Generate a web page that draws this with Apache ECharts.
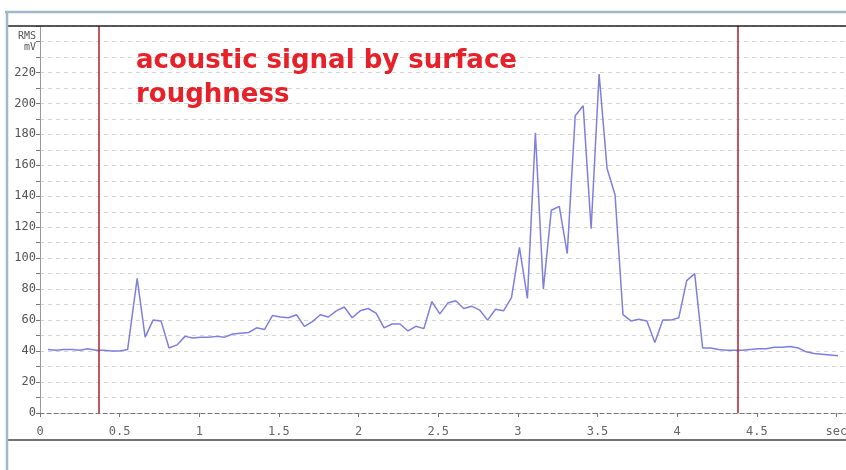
<!DOCTYPE html>
<html>
<head>
<meta charset="utf-8">
<script src="https://cdn.jsdelivr.net/npm/echarts@6/dist/echarts.min.js"></script>
<style>
  html, body { margin: 0; padding: 0; background: #fff; }
  #chart { width: 846px; height: 470px; }
</style>
</head>
<body>
<div id="chart"></div>
<script>
// RMS-Werte (mV) über der Zeit (sec)
const times = [
  0.05, 0.10, 0.15, 0.20, 0.25, 0.30, 0.35, 0.40, 0.45, 0.50,
  0.55, 0.61, 0.66, 0.71, 0.76, 0.81, 0.86, 0.91, 0.96, 1.01,
  1.06, 1.11, 1.16, 1.21, 1.26, 1.31, 1.36, 1.41, 1.46, 1.51,
  1.56, 1.61, 1.66, 1.71, 1.76, 1.81, 1.86, 1.91, 1.96, 2.01,
  2.06, 2.11, 2.16, 2.21, 2.26, 2.31, 2.36, 2.41, 2.46, 2.51,
  2.56, 2.61, 2.66, 2.71, 2.76, 2.81, 2.86, 2.91, 2.96, 3.01,
  3.06, 3.11, 3.16, 3.21, 3.26, 3.31, 3.36, 3.41, 3.46, 3.51,
  3.56, 3.61, 3.66, 3.71, 3.76, 3.81, 3.86, 3.91, 3.96, 4.01,
  4.06, 4.11, 4.16, 4.21, 4.26, 4.31, 4.36, 4.41, 4.46, 4.51,
  4.56, 4.61, 4.66, 4.71, 4.76, 4.81, 4.86, 4.91, 4.96, 5.01
];
const rms = [
  41, 40.5, 41, 41, 40.5, 41.5, 40.5, 40.5, 40, 40,
  41, 87, 49, 60, 59.5, 42, 44, 49.5, 48.5, 49,
  49, 49.5, 49, 51, 51.5, 52, 55, 54, 63, 62,
  61.5, 63.5, 56, 59, 63.5, 62, 66, 68.5, 61.5, 66,
  67.5, 64.5, 55, 57.5, 57.5, 53, 56, 54.5, 72, 64,
  71, 72.5, 67.5, 69, 66.5, 60, 67, 66, 74.5, 107,
  74, 181, 80, 131, 133.5, 103, 192, 198.5, 119, 219,
  158, 141, 63.5, 59.5, 60.5, 59.5, 45.5, 60, 60, 61.5,
  85.5, 90, 42, 42, 41, 40.5, 40.5, 40.5, 41, 41.5,
  41.5, 42.5, 42.5, 43, 42, 39.5, 38.5, 38, 37.5, 37
];
// rote Markierungen (Start / Ende der Messung)
const markers = [0.37, 4.38];

const titleText = 'acoustic signal by surface\nroughness';

const chart = echarts.init(document.getElementById('chart'));

const monoFont = 'DejaVu Sans Mono';

const option = {
  animation: false,
  backgroundColor: '#fff',
  title: {
    text: titleText,
    left: 131,
    top: 39,
    textStyle: {
      color: '#e62129',
      fontFamily: 'DejaVu Sans',
      fontWeight: 'bold',
      fontSize: 26,
      lineHeight: 34
    }
  },
  // Plotbereich endet am rechten Bildrand, Labels dürfen überstehen
  grid: { left: 40, top: 26, right: 0, height: 387, outerBoundsMode: 'none' },
  xAxis: {
    type: 'value',
    min: 0,
    max: 5.06,
    interval: 0.5,
    axisLine: { lineStyle: { color: '#777', type: [4, 3], width: 1 } },
    axisTick: { length: 4, lineStyle: { color: '#777' } },
    axisLabel: {
      margin: 13,
      color: '#666',
      fontFamily: monoFont,
      fontSize: 12,
      showMaxLabel: false,
      formatter: (v) => (v === 5 ? 'sec' : String(v))
    },
    splitLine: { show: false }
  },
  yAxis: {
    type: 'value',
    min: 0,
    max: 250,
    interval: 10,
    axisLine: { show: true, lineStyle: { color: '#999', width: 1 } },
    axisTick: { length: 4, lineStyle: { color: '#777' } },
    axisLabel: {
      margin: 4,
      color: '#555',
      fontFamily: monoFont,
      fontSize: 12,
      formatter: (v) => {
        if (v === 240) return '{u|RMS}\n{u|mV}';
        return v % 20 === 0 && v <= 220 ? String(v) : '';
      },
      rich: {
        u: { fontFamily: monoFont, fontSize: 10, color: '#555', lineHeight: 11, align: 'right' }
      }
    },
    splitLine: { lineStyle: { color: '#d4d4d4', type: [4, 4], width: 1 } }
  },
  series: [
    {
      type: 'line',
      data: times.map((t, i) => [t, rms[i]]),
      symbol: 'none',
      lineStyle: { color: '#7f7fe0', width: 1.5 },
      markLine: {
        silent: true,
        symbol: 'none',
        label: { show: false },
        lineStyle: { color: '#b0202e', width: 1.5, type: 'solid' },
        data: markers.map((m) => ({ xAxis: m }))
      }
    }
  ],
  graphic: [
    // Rahmen des Messfensters
    {
      type: 'line',
      shape: { x1: 8, y1: 26, x2: 846, y2: 26 },
      style: { stroke: '#222', lineWidth: 1.5 },
      z: 10
    },
    {
      type: 'line',
      shape: { x1: 8, y1: 440, x2: 846, y2: 440 },
      style: { stroke: '#444', lineWidth: 1.5 },
      z: 10
    },
    {
      type: 'line',
      shape: { x1: 5, y1: 12, x2: 846, y2: 12 },
      style: { stroke: '#9fb9c8', lineWidth: 2.5 },
      z: 11
    },
    {
      type: 'line',
      shape: { x1: 7, y1: 12, x2: 7, y2: 470 },
      style: { stroke: '#9fb9c8', lineWidth: 2.5 },
      z: 11
    }
  ]
};

chart.setOption(option);
</script>
</body>
</html>
